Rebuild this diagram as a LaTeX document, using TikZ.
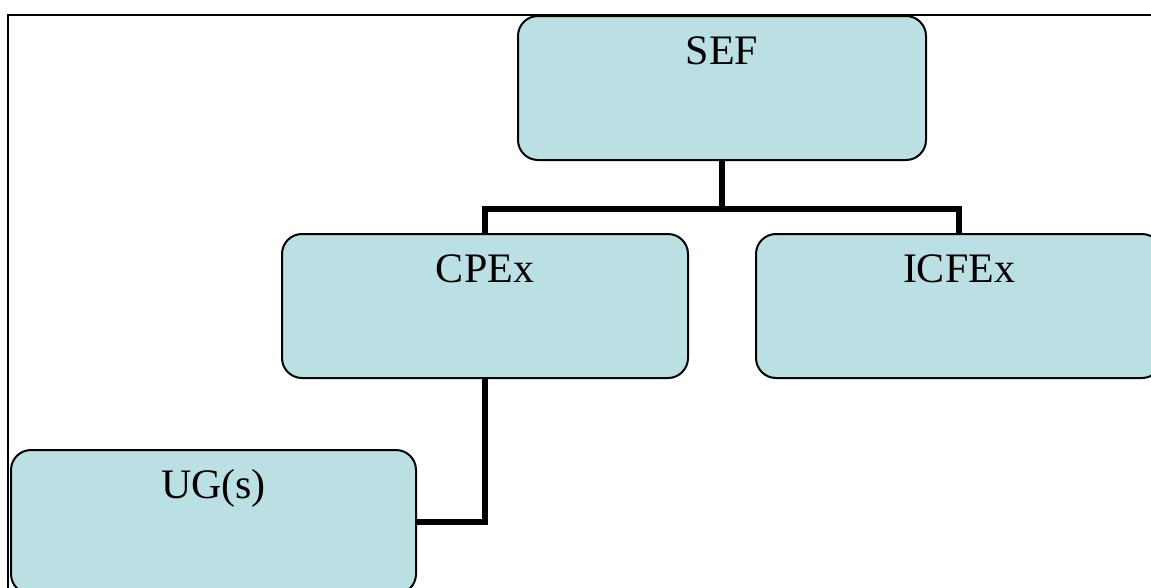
\documentclass[tikz,border=0pt]{standalone}
\usepackage{fontspec}
\setmainfont{Liberation Serif}
\usepackage{tikz}
\usetikzlibrary{positioning}
\definecolor{boxfill}{RGB}{187,224,227}

\begin{document}
\begin{tikzpicture}[
              x=1pt, y=-1pt,
              every node/.style={font=\fontsize{42}{50}\selectfont},
              orgbox/.style={draw, line width=2pt, fill=boxfill, rounded corners=20pt,
                             minimum width=406pt, inner xsep=0pt, inner ysep=0pt,
                             text height=48pt, text depth=96pt, anchor=north},
              link/.style={draw, line width=5.5pt, line join=miter}
            ]

            % page size and clipping of the outer frame
            \useasboundingbox (0,0) rectangle (1151,587);
            \clip (0,0) rectangle (1151,587);
            \draw[line width=2.5pt] (8,15) rectangle (1180,620);

            % Boxes
            \node[orgbox, minimum width=408pt] (SEF) at (722,15) {SEF};
            \node[orgbox] (CPEx) at (485,233) {CPEx};
            \node[orgbox] (ICFEx) at (959,233) {ICFEx};
            \node[orgbox, minimum width=405pt] (UG) at (213.5,449) {UG(s)};

            % Connectors
            \coordinate (split) at (722,209);
            \draw[link] (SEF.south) -- (split);
            \draw[link] (CPEx.north) |- (split) -| (ICFEx.north);
            \draw[link] (CPEx.south) |- (UG.east);

            \end{tikzpicture}
\end{document}
